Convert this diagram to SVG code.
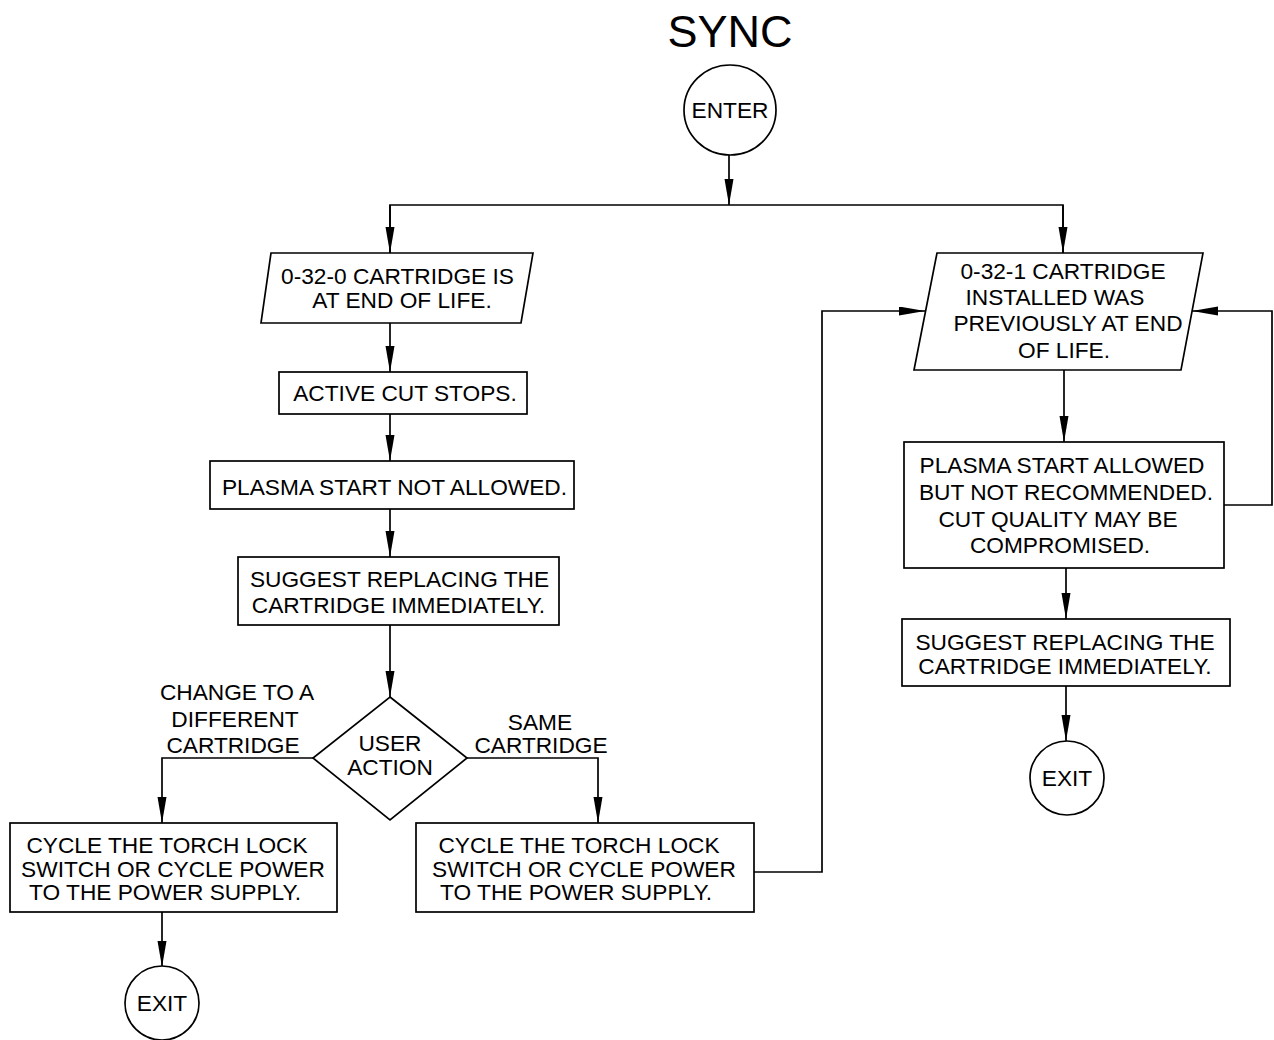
<svg xmlns="http://www.w3.org/2000/svg" width="1274" height="1040" viewBox="0 0 1274 1040">
<style>
.s{fill:#fff;stroke:#000;stroke-width:1.7}
.c{fill:none;stroke:#000;stroke-width:1.7}
text{font-family:"Liberation Sans",Arial,sans-serif;font-size:22.7px;fill:#000;text-anchor:middle}
.t{font-size:45px}
</style>
<defs>
<marker id="a" markerUnits="userSpaceOnUse" markerWidth="26" markerHeight="10" refX="26" refY="4.5" orient="auto">
<path d="M0,0 L26,4.5 L0,9 z" fill="#000"/>
</marker>
</defs>
<text class="t" x="730" y="47">SYNC</text>
<g id="connectors">
<path class="c" d="M729,155 V205" marker-end="url(#a)"/>
<path class="c" d="M390,253 V205 H1063 V253"/>
<path class="c" d="M390,205 V253" marker-end="url(#a)"/>
<path class="c" d="M1063,205 V253" marker-end="url(#a)"/>
<path class="c" d="M390,323 V372" marker-end="url(#a)"/>
<path class="c" d="M390,414 V461" marker-end="url(#a)"/>
<path class="c" d="M390,509 V557" marker-end="url(#a)"/>
<path class="c" d="M390,625 V697" marker-end="url(#a)"/>
<path class="c" d="M313,758 H162 V823" marker-end="url(#a)"/>
<path class="c" d="M467,758 H598 V823" marker-end="url(#a)"/>
<path class="c" d="M162,912 V967" marker-end="url(#a)"/>
<path class="c" d="M754,872 H822 V311 H925" marker-end="url(#a)"/>
<path class="c" d="M1064,370 V442" marker-end="url(#a)"/>
<path class="c" d="M1224,505 H1272 V311 H1192" marker-end="url(#a)"/>
<path class="c" d="M1066,568 V619" marker-end="url(#a)"/>
<path class="c" d="M1066,686 V741" marker-end="url(#a)"/>
</g>
<g id="enter">
<ellipse class="s" cx="730" cy="110" rx="46" ry="45"/>
<text x="730" y="118">ENTER</text>
</g>
<g id="p0">
<polygon class="s" points="271,253 533,253 521,323 261,323"/>
<text x="397.5" y="284">0-32-0 CARTRIDGE IS</text>
<text x="402" y="308">AT END OF LIFE.</text>
</g>
<g id="active">
<rect class="s" x="279" y="372" width="248" height="42"/>
<text x="405" y="401">ACTIVE CUT STOPS.</text>
</g>
<g id="notallowed">
<rect class="s" x="210" y="461" width="364" height="48"/>
<text x="394.5" y="495">PLASMA START NOT ALLOWED.</text>
</g>
<g id="suggest1">
<rect class="s" x="238" y="557" width="321" height="68"/>
<text x="399.5" y="587">SUGGEST REPLACING THE</text>
<text x="398.5" y="613">CARTRIDGE IMMEDIATELY.</text>
</g>
<g id="decision">
<polygon class="s" points="390,697 467,758 390,820 313,758"/>
<text x="390" y="751">USER</text>
<text x="390" y="775">ACTION</text>
</g>
<g id="labels">
<text x="237" y="700">CHANGE TO A</text>
<text x="235" y="727">DIFFERENT</text>
<text x="233" y="753">CARTRIDGE</text>
<text x="540" y="730">SAME</text>
<text x="541" y="753">CARTRIDGE</text>
</g>
<g id="cycle1">
<rect class="s" x="10" y="823" width="327" height="89"/>
<text x="167" y="853">CYCLE THE TORCH LOCK</text>
<text x="173" y="877">SWITCH OR CYCLE POWER</text>
<text x="165" y="900">TO THE POWER SUPPLY.</text>
</g>
<g id="exit1">
<circle class="s" cx="162" cy="1003" r="37"/>
<text x="162" y="1011">EXIT</text>
</g>
<g id="cycle2">
<rect class="s" x="416" y="823" width="338" height="89"/>
<text x="579" y="853">CYCLE THE TORCH LOCK</text>
<text x="584" y="877">SWITCH OR CYCLE POWER</text>
<text x="576" y="900">TO THE POWER SUPPLY.</text>
</g>
<g id="p1">
<polygon class="s" points="937,253 1203,253 1181,370 914,370"/>
<text x="1063" y="279">0-32-1 CARTRIDGE</text>
<text x="1055" y="305">INSTALLED WAS</text>
<text x="1068" y="331">PREVIOUSLY AT END</text>
<text x="1064" y="358">OF LIFE.</text>
</g>
<g id="allowed">
<rect class="s" x="904" y="442" width="320" height="126"/>
<text x="1062" y="473">PLASMA START ALLOWED</text>
<text x="1066" y="500">BUT NOT RECOMMENDED.</text>
<text x="1058" y="527">CUT QUALITY MAY BE</text>
<text x="1060" y="553">COMPROMISED.</text>
</g>
<g id="suggest2">
<rect class="s" x="902" y="619" width="328" height="67"/>
<text x="1065" y="650">SUGGEST REPLACING THE</text>
<text x="1065" y="674">CARTRIDGE IMMEDIATELY.</text>
</g>
<g id="exit2">
<circle class="s" cx="1067" cy="778" r="37"/>
<text x="1067" y="786">EXIT</text>
</g>
</svg>
